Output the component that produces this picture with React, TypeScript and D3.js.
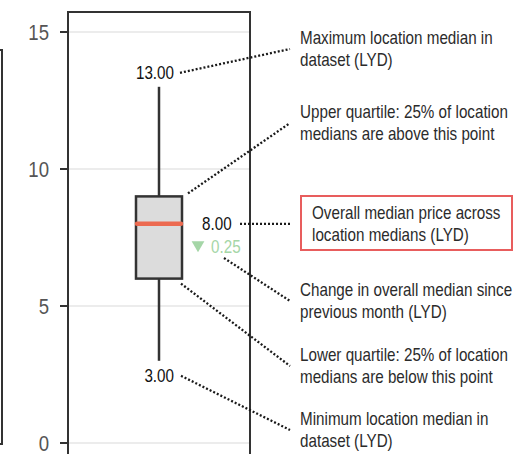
import React from 'react';
import * as d3 from 'd3';

// box stats (LYD)
const statValues = { min: 3, q1: 6, median: 8, q3: 9, max: 13 };
const medianChange = -0.25;
const yTicks = [0, 5, 10, 15];

const noteMax = ['Maximum location median in', 'dataset (LYD)'];
const noteQ3 = ['Upper quartile: 25% of location', 'medians are above this point'];
const noteMedian = ['Overall median price across', 'location medians (LYD)'];
const noteChange = ['Change in overall median since', 'previous month (LYD)'];
const noteQ1 = ['Lower quartile: 25% of location', 'medians are below this point'];
const noteMin = ['Minimum location median in', 'dataset (LYD)'];

const FONT = '"Liberation Sans", Arial, sans-serif';
const SQUEEZE = 0.845; // narrow look, no condensed face installed

type NProps = { x: number; y: number; size: number; fill: string; anchor?: string; children: React.ReactNode };
const NarrowText = ({ x, y, size, fill, anchor = 'start', children }: NProps) => (
  <text
    transform={`translate(${x},${y}) scale(${SQUEEZE},1)`}
    textAnchor={anchor}
    dominantBaseline="central"
    fontSize={size}
    fill={fill}
    fontFamily={FONT}
  >
    {children}
  </text>
);

const App = () => {
  const width = 513;
  const height = 454;
  const frame = { left: 68, right: 250, top: 12 };
  const y = d3.scaleLinear().domain([0, 15]).range([443, 32]);
  const cx = 159;
  const boxW = 46;
  const bx0 = cx - boxW / 2;
  const bx1 = cx + boxW / 2;
  const noteX = 300;
  const lineEndX = 290;

  const dotted = { stroke: '#1a1a1a', strokeWidth: 2.3, strokeDasharray: '2 2', fill: 'none' };

  const note = (lines: string[], cy: number, key: string, x = noteX) => (
    <NarrowText key={key} x={x} y={cy - 11} size={18} fill="#2b2b2b">
      {lines.map((l, i) => (
        <tspan key={i} x={0} dy={i === 0 ? 0 : 22}>{l}</tspan>
      ))}
    </NarrowText>
  );

  const maxLabelY = y(statValues.max) - 14;
  const minLabelY = y(statValues.min) + 15;
  const tri = d3.symbol(d3.symbolTriangle, 70)();

  const notes = [
    { lines: noteMax, cy: 49, from: [180, maxLabelY] },
    { lines: noteQ3, cy: 123, from: [188, y(statValues.q3) - 3] },
    { lines: noteChange, cy: 301, from: [224, 258] },
    { lines: noteQ1, cy: 366, from: [181, y(statValues.q1) + 5] },
    { lines: noteMin, cy: 430, from: [181, minLabelY] },
  ];

  return (
    <svg width={width} height={height} style={{ position: 'absolute', left: 0, top: 0, background: '#fff' }}>
      {/* neighbouring panel edge */}
      <rect x={-100} y={50} width={102} height={394} fill="none" stroke="#333" strokeWidth={2} />

      {/* grid */}
      {yTicks.map((t) => (
        <line key={`g${t}`} x1={frame.left} x2={frame.right} y1={y(t)} y2={y(t)} stroke="#e6e6e6" strokeWidth={1.5} />
      ))}

      {/* frame */}
      <rect x={frame.left} y={frame.top} width={frame.right - frame.left} height={480} fill="none" stroke="#333" strokeWidth={2} />

      {/* y axis ticks */}
      {yTicks.map((t) => (
        <g key={`t${t}`}>
          <line x1={60} x2={frame.left} y1={y(t)} y2={y(t)} stroke="#333" strokeWidth={2} />
          <NarrowText x={49} y={y(t)} anchor="end" size={22} fill="#555">{t}</NarrowText>
        </g>
      ))}

      {/* whiskers */}
      <line x1={cx} x2={cx} y1={y(statValues.max)} y2={y(statValues.q3)} stroke="#333" strokeWidth={2.5} />
      <line x1={cx} x2={cx} y1={y(statValues.q1)} y2={y(statValues.min)} stroke="#333" strokeWidth={2.5} />

      {/* box */}
      <rect x={bx0} y={y(statValues.q3)} width={boxW} height={y(statValues.q1) - y(statValues.q3)} fill="#dcdcdc" stroke="#333" strokeWidth={2.5} />
      <line x1={bx0 + 1} x2={bx1 - 1} y1={y(statValues.median)} y2={y(statValues.median)} stroke="#ec6a50" strokeWidth={4.5} strokeLinecap="round" />

      {/* value labels */}
      <NarrowText x={174} y={maxLabelY} anchor="end" size={18} fill="#111">{statValues.max.toFixed(2)}</NarrowText>
      <NarrowText x={174} y={minLabelY} anchor="end" size={18} fill="#111">{statValues.min.toFixed(2)}</NarrowText>
      <NarrowText x={bx1 + 20} y={y(statValues.median)} size={18} fill="#111">{statValues.median.toFixed(2)}</NarrowText>
      <path d={tri ?? ''} transform={`translate(198, ${y(statValues.median) + 21}) rotate(180)`} fill="#a5d6a7" />
      <NarrowText x={211} y={y(statValues.median) + 23} size={18} fill="#a5d6a7">{Math.abs(medianChange).toFixed(2)}</NarrowText>

      {/* leader lines */}
      {notes.map((n, i) => (
        <line key={`l${i}`} x1={n.from[0]} y1={n.from[1]} x2={lineEndX} y2={n.cy} style={dotted} />
      ))}
      <line x1={240} y1={y(statValues.median)} x2={lineEndX} y2={y(statValues.median)} style={dotted} />

      {/* annotation texts */}
      {notes.map((n, i) => note(n.lines, n.cy, `n${i}`))}
      <rect x={301} y={196} width={211} height={54} fill="none" stroke="#e85d5d" strokeWidth={2} />
      {note(noteMedian, 224, 'nm', 312)}
    </svg>
  );
};

export default App;
